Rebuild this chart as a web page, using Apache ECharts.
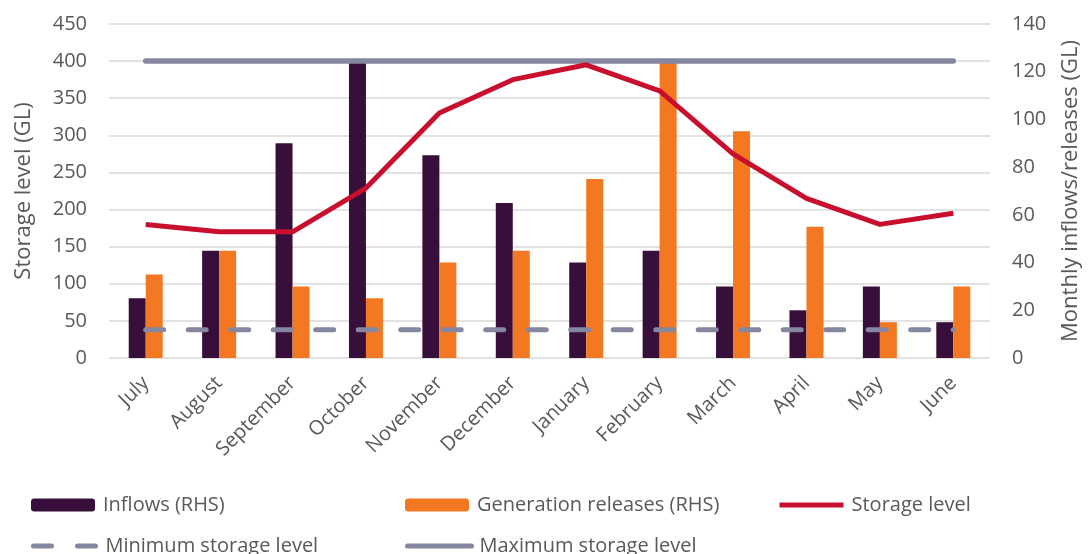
<!DOCTYPE html>
<html>
<head>
<meta charset="utf-8">
<script src="https://cdn.jsdelivr.net/npm/echarts@6/dist/echarts.min.js"></script>
<style>html,body{margin:0;padding:0;background:#fff}#c{width:1090px;height:554px}</style>
</head>
<body>
<div id="c"></div>
<script>
const categories = ['July','August','September','October','November','December','January','February','March','April','May','June'];
const inflows = [25, 45, 90, 125, 85, 65, 40, 45, 30, 20, 30, 15];
const releases = [35, 45, 30, 25, 40, 45, 75, 125, 95, 55, 15, 30];
const storage = [180, 170, 170, 229, 330, 375, 395, 360, 275, 215, 180, 195];
const minStorage = [38, 38, 38, 38, 38, 38, 38, 38, 38, 38, 38, 38];
const maxStorage = [400, 400, 400, 400, 400, 400, 400, 400, 400, 400, 400, 400];
const leftTicks = {min: 0, max: 450, interval: 50};
const rightTicks = {min: 0, max: 140, interval: 20};

const FONT = 'Open Sans';
const GREY = '#595959';
const RED = '#C8102E';
const LGREY = '#8587A0';
const chart = echarts.init(document.getElementById('c'));
const txt = {fontFamily: FONT, fontSize: 20, color: GREY};
function lg(item, left, top) {
  return {
    data: [item], left: left, top: top, itemWidth: 64, itemHeight: 13, itemGap: 0,
    textStyle: {fontFamily: FONT, fontSize: 20, color: GREY, padding: [0, 0, 0, 3]}, selectedMode: false
  };
}
chart.setOption({
  animation: false,
  grid: {left: 109, right: 95, top: 24, bottom: 196},
  legend: [
    lg({name: 'Inflows (RHS)'}, 26, 490),
    lg({name: 'Generation releases (RHS)'}, 400, 490),
    lg({name: 'Storage level', itemStyle: {opacity: 0}, lineStyle: {width: 5}}, 772, 490),
    lg({name: 'Minimum storage level', itemStyle: {opacity: 0}, lineStyle: {width: 5, type: [18, 26], cap: 'round'}}, 26, 531),
    lg({name: 'Maximum storage level', itemStyle: {opacity: 0}, lineStyle: {width: 5, cap: 'round'}}, 400, 531)
  ],
  xAxis: {
    type: 'category', data: categories,
    axisLine: {show: false}, axisTick: {show: false},
    axisLabel: Object.assign({rotate: 45, margin: 22, interval: 0}, txt)
  },
  yAxis: [
    {type: 'value', min: leftTicks.min, max: leftTicks.max, interval: leftTicks.interval,
     name: 'Storage level (GL)', nameLocation: 'middle', nameGap: 74,
     nameTextStyle: {fontFamily: FONT, fontSize: 22, color: GREY},
     axisLine: {show: false}, axisTick: {show: false},
     axisLabel: Object.assign({margin: 22}, txt),
     splitLine: {lineStyle: {color: '#D9D9D9', width: 1.5}}},
    {type: 'value', min: rightTicks.min, max: rightTicks.max, interval: rightTicks.interval,
     name: 'Monthly inflows/releases (GL)', nameLocation: 'middle', nameGap: 70,
     nameTextStyle: {fontFamily: FONT, fontSize: 22, color: GREY},
     axisLine: {show: false}, axisTick: {show: false},
     axisLabel: Object.assign({margin: 22}, txt),
     splitLine: {show: false}}
  ],
  series: [
    {name: 'Inflows (RHS)', type: 'bar', yAxisIndex: 1, data: inflows, barWidth: 17, barGap: '0%',
     itemStyle: {color: '#380F3B'}, z: 2},
    {name: 'Generation releases (RHS)', type: 'bar', yAxisIndex: 1, data: releases, barWidth: 17, barGap: '0%',
     itemStyle: {color: '#F47721'}, z: 2},
    {name: 'Storage level', type: 'line', yAxisIndex: 0, data: storage, symbol: 'none',
     lineStyle: {color: RED, width: 5}, itemStyle: {color: RED}, z: 4},
    {name: 'Minimum storage level', type: 'line', yAxisIndex: 0, data: minStorage, symbol: 'none',
     lineStyle: {color: LGREY, width: 5, type: [18, 24.5], cap: 'round'}, itemStyle: {color: LGREY}, z: 3},
    {name: 'Maximum storage level', type: 'line', yAxisIndex: 0, data: maxStorage, symbol: 'none',
     lineStyle: {color: LGREY, width: 5.5, cap: 'round'}, itemStyle: {color: LGREY}, z: 3}
  ]
});
</script>
</body>
</html>
